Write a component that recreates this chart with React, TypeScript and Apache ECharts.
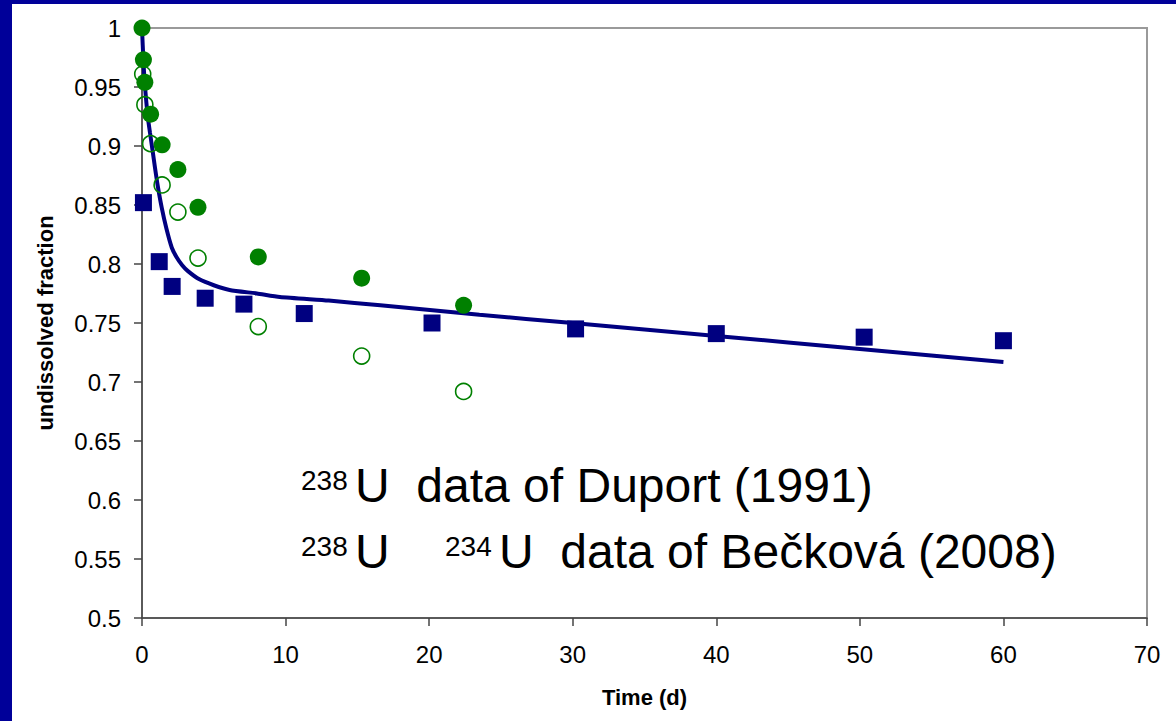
import React, { useEffect, useRef } from "react";
import * as echarts from "echarts";

// Duport (1991) 238U, time (d) and undissolved fraction
const duportT = [0.1, 1.2, 2.1, 4.4, 7.1, 11.3, 20.2, 30.2, 40.0, 50.3, 60.0];
const duportF = [0.852, 0.802, 0.781, 0.771, 0.766, 0.758, 0.750, 0.745, 0.741, 0.738, 0.735];

// Bečková (2008) 238U (filled circles)
const beck238T = [0, 0.1, 0.2, 0.6, 1.4, 2.5, 3.9, 8.1, 15.3, 22.4];
const beck238F = [1.0, 0.973, 0.954, 0.927, 0.901, 0.880, 0.848, 0.806, 0.788, 0.765];

// Bečková (2008) 234U (open circles)
const beck234T = [0.05, 0.2, 0.6, 1.4, 2.5, 3.9, 8.1, 15.3, 22.4];
const beck234F = [0.961, 0.935, 0.902, 0.867, 0.844, 0.805, 0.747, 0.722, 0.692];

// fitted curve
const fitT = [0, 0.1, 0.2, 0.4, 0.56, 0.75, 0.9, 1.1, 1.37, 1.7, 2.07, 2.4, 2.8, 3.2, 4.0, 5.0, 6.1, 8.0, 9.6, 13, 16.6, 23.5, 30, 40, 50, 60];
const fitF = [1.0, 0.972, 0.952, 0.925, 0.911, 0.895, 0.882, 0.866, 0.848, 0.830, 0.814, 0.806, 0.799, 0.794, 0.787, 0.782, 0.778, 0.775, 0.772, 0.769, 0.765, 0.757, 0.750, 0.739, 0.728, 0.717];

const xTicks = { min: 0, max: 70, interval: 10 };
const yTicks = { min: 0.5, max: 1, interval: 0.05 };

const NAVY = "#000080";
const GREEN = "#008000";
const FONT = "'Liberation Sans', Arial, sans-serif";

const zip = (a: number[], b: number[]) => a.map((v, i) => [v, b[i]]);

export default function App() {
  const ref = useRef<HTMLDivElement>(null);
  useEffect(() => {
    if (!ref.current) return;
    const chart = echarts.init(ref.current, undefined, { renderer: "svg" });
    const ox = 12;
    const oy = 4;
    const txt = (x: number, y: number, s: string, size: number) => ({
      type: "text",
      x: x - ox,
      y: y - oy,
      style: {
        text: s,
        fontSize: size,
        fontFamily: FONT,
        fill: "#000",
        verticalAlign: "top",
        align: "left",
      },
    });
    chart.setOption({
      animation: false,
      backgroundColor: "#fff",
      grid: {
        left: 142 - ox,
        top: 28 - oy,
        right: 29,
        bottom: 103,
        show: true,
        borderColor: "#9a9a9a",
        borderWidth: 2,
        backgroundColor: "transparent",
      },
      xAxis: {
        type: "value",
        min: xTicks.min,
        max: xTicks.max,
        interval: xTicks.interval,
        name: "Time (d)",
        nameLocation: "middle",
        nameGap: 68,
        nameTextStyle: { fontSize: 22, fontWeight: "bold", fontFamily: FONT, color: "#000" },
        axisLine: { show: true, onZero: false, lineStyle: { color: "#444", width: 1.5 } },
        axisTick: { show: true, length: 8, lineStyle: { color: "#444", width: 1.5 } },
        axisLabel: { fontSize: 24, fontFamily: FONT, color: "#000", margin: 24 },
        splitLine: { show: false },
      },
      yAxis: {
        type: "value",
        min: yTicks.min,
        max: yTicks.max,
        interval: yTicks.interval,
        name: "undissolved fraction",
        nameLocation: "middle",
        nameGap: 86,
        nameTextStyle: { fontSize: 22, fontWeight: "bold", fontFamily: FONT, color: "#000" },
        axisLine: { show: true, onZero: false, lineStyle: { color: "#444", width: 1.5 } },
        axisTick: { show: true, length: 8, lineStyle: { color: "#444", width: 1.5 } },
        axisLabel: { fontSize: 24, fontFamily: FONT, color: "#000", margin: 21 },
        splitLine: { show: false },
      },
      series: [
        {
          type: "line",
          data: zip(fitT, fitF),
          smooth: 0.2,
          showSymbol: false,
          symbol: "none",
          lineStyle: { color: NAVY, width: 4 },
          z: 2,
        },
        {
          type: "scatter",
          data: zip(duportT, duportF),
          symbol: "rect",
          symbolSize: 17,
          itemStyle: { color: NAVY, opacity: 1 },
          z: 3,
        },
        {
          type: "scatter",
          data: zip(beck234T, beck234F),
          symbol: "circle",
          symbolSize: 16,
          itemStyle: { color: "transparent", borderColor: GREEN, borderWidth: 1.6, opacity: 1 },
          z: 4,
        },
        {
          type: "scatter",
          data: zip(beck238T, beck238F),
          symbol: "circle",
          symbolSize: 17,
          itemStyle: { color: GREEN, opacity: 1 },
          z: 5,
        },
      ],
      graphic: [
        txt(301, 466, "238", 28),
        txt(355, 461, "U  data of Duport (1991)", 48),
        txt(301, 532, "238", 28),
        txt(355, 527, "U", 48),
        txt(445, 532, "234", 28),
        txt(499, 527, "U  data of Bečková (2008)", 48),
      ],
    });
    return () => chart.dispose();
  }, []);
  return (
    <div style={{ position: "fixed", left: 0, top: 0, width: 1176, height: 721, background: "#000099" }}>
      <div ref={ref} style={{ position: "absolute", left: 12, top: 4, width: 1164, height: 717 }} />
    </div>
  );
}
